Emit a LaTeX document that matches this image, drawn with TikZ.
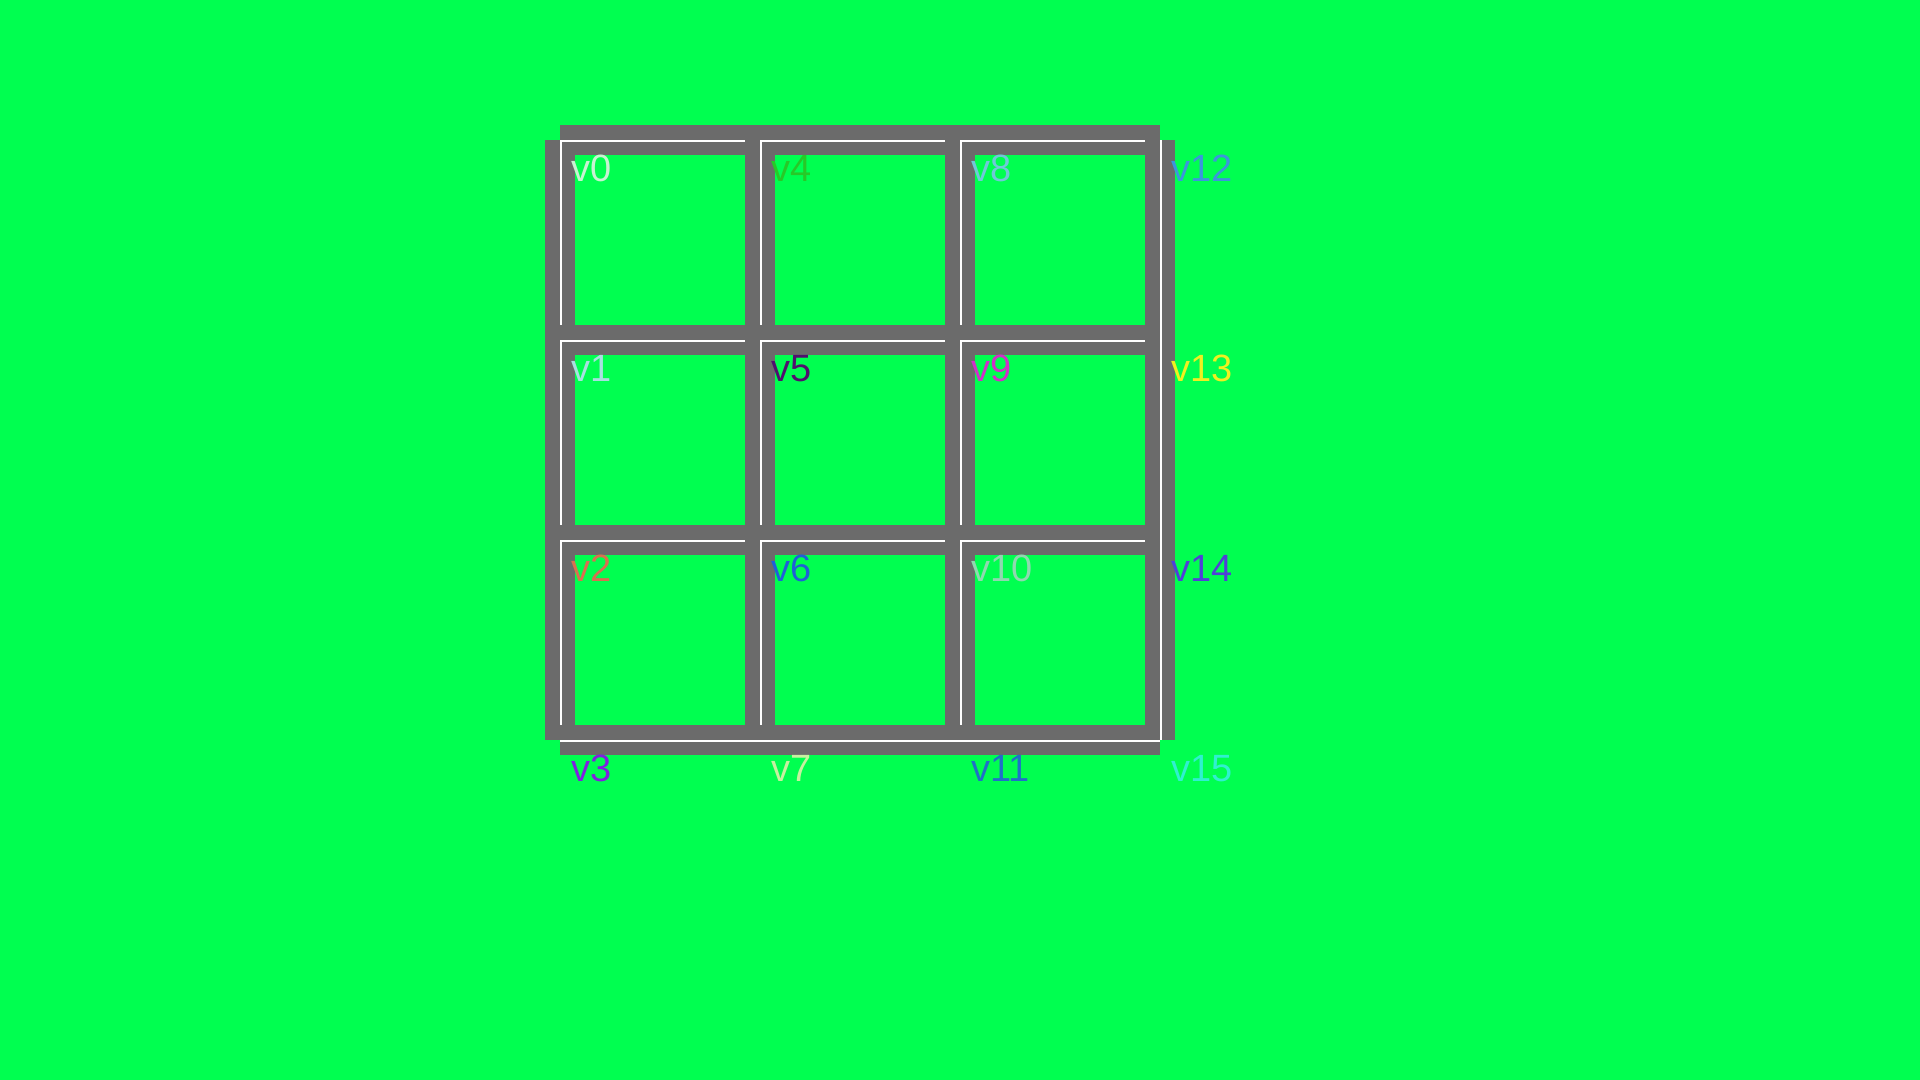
\documentclass[tikz,border=0pt]{standalone}
\usepackage{fontspec}
\setmainfont{Liberation Sans}
\definecolor{bg}{HTML}{00FF50}
\definecolor{edgegray}{HTML}{6B6B6B}
\definecolor{c0}{HTML}{C8F2D2}
\definecolor{c1}{HTML}{A8E0E0}
\definecolor{c2}{HTML}{D87050}
\definecolor{c3}{HTML}{8020E0}
\definecolor{c4}{HTML}{28C828}
\definecolor{c5}{HTML}{50106E}
\definecolor{c6}{HTML}{2060D8}
\definecolor{c7}{HTML}{C8F0A0}
\definecolor{c8}{HTML}{70C8D8}
\definecolor{c9}{HTML}{D030C8}
\definecolor{c10}{HTML}{90D8B0}
\definecolor{c11}{HTML}{2070C8}
\definecolor{c12}{HTML}{3C96DC}
\definecolor{c13}{HTML}{F0F020}
\definecolor{c14}{HTML}{5040D8}
\definecolor{c15}{HTML}{30F0D0}
\tikzset{
  edgebase/.style={draw=edgegray,line width=3mm},
  edgeline/.style={draw=white,line width=0.15mm},
  vlabel/.style={anchor=base west,inner sep=0pt,font=\fontsize{10.8}{13}\selectfont}
}
\begin{document}
\begin{tikzpicture}[x=0.01cm,y=-0.01cm]
\fill[bg] (0,0) rectangle (1920,1080);
\useasboundingbox (0,0) rectangle (1920,1080);
\foreach \c in {0,...,3}{
  \foreach \r in {0,...,3}{
    \pgfmathtruncatemacro\i{4*\c+\r}
    \coordinate (v\i) at ({560.2+200*\c},{140.2+200*\r});
  }
}
\foreach \c in {0,...,3}{
  \foreach \r in {0,...,3}{
    \pgfmathtruncatemacro\i{4*\c+\r}
    \pgfmathtruncatemacro\rt{\i+4}
    \pgfmathtruncatemacro\dn{\i+1}
    \ifnum\c<3
      \draw[edgebase] (v\i) -- (v\rt);
    \fi
    \ifnum\r<3
      \draw[edgebase] (v\i) -- (v\dn);
    \fi
    \ifnum\c<3
      \draw[edgeline] ([yshift=-0.01cm]v\i) -- ([yshift=-0.01cm]v\rt);
    \fi
    \ifnum\r<3
      \draw[edgeline] ([xshift=0.01cm]v\i) -- ([xshift=0.01cm]v\dn);
    \fi
  }
}
\foreach \i in {0,...,15}{
  \node[vlabel,text=c\i] (l\i) at ([shift={(10.4,41.5)}]v\i) {v\i};
}
\end{tikzpicture}
\end{document}
